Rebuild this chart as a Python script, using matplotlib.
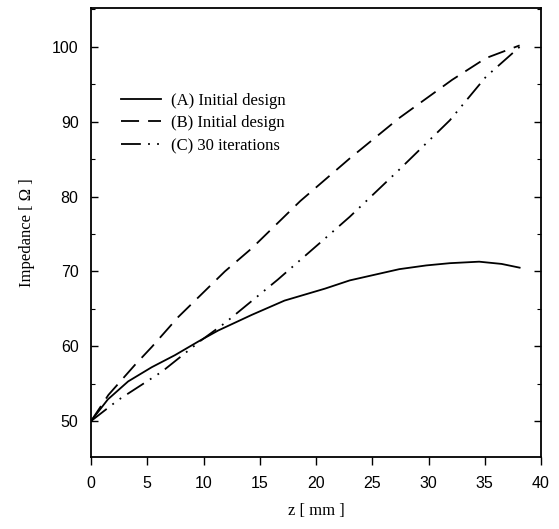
import matplotlib
matplotlib.use("Agg")
import matplotlib.pyplot as plt
from matplotlib.ticker import MultipleLocator

# Data
z_a = [0, 1.5, 3.3, 5.4, 7.45, 9.5, 11.3, 14.3, 17.2, 20.8, 23.0, 27.4, 29.8, 31.9, 34.5, 36.5, 38.1]
imp_a = [50, 52.9, 55.3, 57.2, 58.8, 60.6, 62.1, 64.2, 66.1, 67.7, 68.8, 70.3, 70.8, 71.1, 71.3, 71.0, 70.5]

z_b = [0, 1.55, 3.9, 5.4, 7.75, 11.9, 14.3, 18.6, 23.0, 27.4, 32.1, 35.1, 38.1]
imp_b = [50, 53.5, 57.5, 59.9, 63.9, 70.0, 73.1, 79.4, 85.1, 90.5, 95.6, 98.5, 100.2]

z_c = [0, 2.4, 6.3, 9.8, 11.9, 16.6, 20.8, 23.0, 27.4, 31.9, 35.1, 38.1]
imp_c = [50, 52.8, 56.6, 60.8, 63.1, 68.9, 74.4, 77.3, 83.6, 90.2, 96.0, 100.0]

labels = ["(A) Initial design", "(B) Initial design", "(C) 30 iterations"]
x_ticks = [0, 5, 10, 15, 20, 25, 30, 35, 40]
y_ticks = [50, 60, 70, 80, 90, 100]

fig = plt.figure(figsize=(5.59, 5.29), dpi=100)
ax = fig.add_axes([0.1628, 0.1361, 0.805, 0.8488])

lw = 1.3
ax.plot(z_a, imp_a, color="black", lw=lw, linestyle="-", label=labels[0])
ax.plot(z_b, imp_b, color="black", lw=lw, linestyle=(0, (10, 5)), label=labels[1])
ax.plot(z_c, imp_c, color="black", lw=lw, linestyle=(0, (11, 4, 1, 4, 1, 4)), label=labels[2])

ax.set_xlim(0, 40)
ax.set_ylim(45.2, 105.2)
ax.set_xticks(x_ticks)
ax.set_yticks(y_ticks)
ax.yaxis.set_minor_locator(MultipleLocator(5))

tick_font = {"family": "Liberation Sans", "size": 11.5}
ax.set_xticklabels([str(t) for t in x_ticks], fontdict=tick_font)
ax.set_yticklabels([str(t) for t in y_ticks], fontdict=tick_font)

ax.tick_params(axis="x", which="major", direction="out", length=6, width=1, top=False, pad=8)
ax.tick_params(axis="y", which="major", direction="in", length=5, width=1, left=True, right=True, pad=9)
ax.tick_params(axis="y", which="minor", direction="in", length=3, width=0.8, left=True, right=True)

for s in ax.spines.values():
    s.set_linewidth(1.3)

ax.set_xlabel("z [ mm ]", family="Liberation Serif", fontsize=12, labelpad=8)
ax.set_ylabel("Impedance [ Ω ]", family="Liberation Serif", fontsize=12, labelpad=12)

leg = ax.legend(loc="upper left", bbox_to_anchor=(0.033, 0.845), frameon=False,
                prop={"family": "Liberation Serif", "size": 12},
                handlelength=2.4, handletextpad=0.6, labelspacing=0.4)

fig.savefig("out.png", dpi=100)
